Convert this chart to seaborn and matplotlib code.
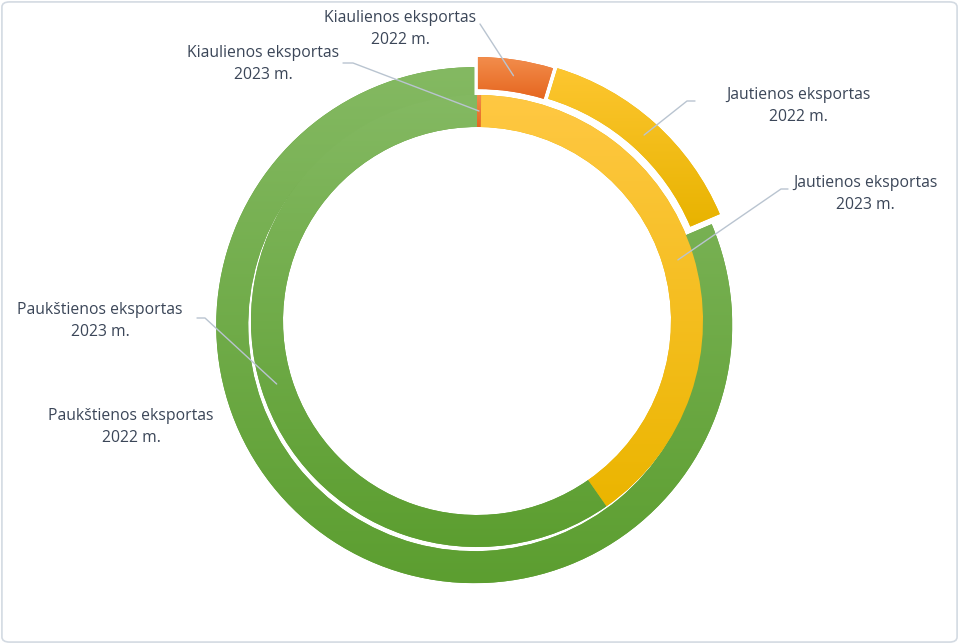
import numpy as np
import matplotlib
matplotlib.use("Agg")
import matplotlib.pyplot as plt
import matplotlib.colors as mcolors
from matplotlib.patches import FancyBboxPatch
import seaborn as sns

sns.set_theme(style="white")
plt.rcParams["font.family"] = ["Open Sans", "DejaVu Sans"]

# Data (shares in %)
categories = ["Kiaulienos eksportas", "Jautienos eksportas", "Paukštienos eksportas"]
share_2022 = [4.7, 13.9, 81.4]   # outer ring
share_2023 = [0.3, 40.0, 59.7]   # inner ring
years = ["2022 m.", "2023 m."]

# gradient colours (top, bottom) per category
outer_colors = [("#f28d4c", "#e6661f"), ("#fdc630", "#e8b300"), ("#84b962", "#5c9e30")]
inner_colors = [("#f28d4c", "#e6661f"), ("#ffc843", "#ebb500"), ("#84b962", "#5c9e30")]

W, H = 959, 644
CX, CY = 477, H - 321
text_color = "#3b4658"
line_color = "#b9c4d0"

fig = plt.figure(figsize=(W / 100, H / 100), dpi=100)
ax = fig.add_axes([0, 0, 1, 1])


def fill_gradient(wedge, top, bottom):
    x0, y0, x1, y1 = wedge.get_path().get_extents().extents
    t = np.linspace(0, 1, 256)[:, None, None]
    c0 = np.array(mcolors.to_rgb(top))
    c1 = np.array(mcolors.to_rgb(bottom))
    img = c0 + (c1 - c0) * t
    im = ax.imshow(img, extent=[x0, x1, y0, y1], origin="upper", aspect="auto",
                   interpolation="bilinear", zorder=wedge.get_zorder() + 0.1)
    im.set_clip_path(wedge)


outer, _ = ax.pie(share_2022, radius=258, center=(CX, CY), startangle=90,
                  counterclock=False, explode=[6, 8, 5],
                  colors=[c[1] for c in outer_colors],
                  wedgeprops=dict(width=32, linewidth=0))
inner, _ = ax.pie(share_2023, radius=226, center=(CX, CY), startangle=90,
                  counterclock=False,
                  colors=[c[1] for c in inner_colors],
                  wedgeprops=dict(width=32, linewidth=0))

for w, (top, bottom) in zip(outer, outer_colors):
    fill_gradient(w, top, bottom)
for w, (top, bottom) in zip(inner, inner_colors):
    fill_gradient(w, top, bottom)


def anchor(w):
    mid = np.deg2rad((w.theta1 + w.theta2) / 2)
    r = w.r - w.width / 2
    return w.center[0] + r * np.cos(mid), w.center[1] + r * np.sin(mid)


def label(text, tx, ty, ha="center"):
    ax.text(tx, H - ty, text, ha=ha, va="center", fontsize=11.3,
            color=text_color, linespacing=1.45, zorder=10)


def leader(w, points):
    ax_, ay_ = anchor(w)
    xs = [p[0] for p in points] + [ax_]
    ys = [H - p[1] for p in points] + [ay_]
    ax.plot(xs, ys, color=line_color, lw=1, zorder=9)


# labels (text position, leader elbow)
label(f"{categories[0]}\n{years[0]}", 400, 29)
leader(outer[0], [(480, 24)])

label(f"{categories[0]}\n{years[1]}", 263, 64)
leader(inner[0], [(343, 63), (353, 63)])

label(f"{categories[1]}\n{years[0]}", 798, 106)
leader(outer[1], [(695, 101), (687, 101)])

label(f"{categories[1]}\n{years[1]}", 865, 194)
leader(inner[1], [(788, 189), (781, 189)])

label(f"{categories[2]}\n{years[1]}", 100, 321)
leader(inner[2], [(197, 318), (205, 318)])

label(f"{categories[2]}\n{years[0]}", 131, 427)

ax.set_xlim(0, W)
ax.set_ylim(0, H)
ax.set_aspect("equal")
ax.axis("off")

fig.patches.append(FancyBboxPatch((0.002, 0.003), 0.996, 0.994,
                                  boxstyle="round,pad=0,rounding_size=0.008",
                                  transform=fig.transFigure, fill=False,
                                  ec="#d3dae2", lw=1.2))

fig.savefig("out.png", dpi=100, facecolor="white")
